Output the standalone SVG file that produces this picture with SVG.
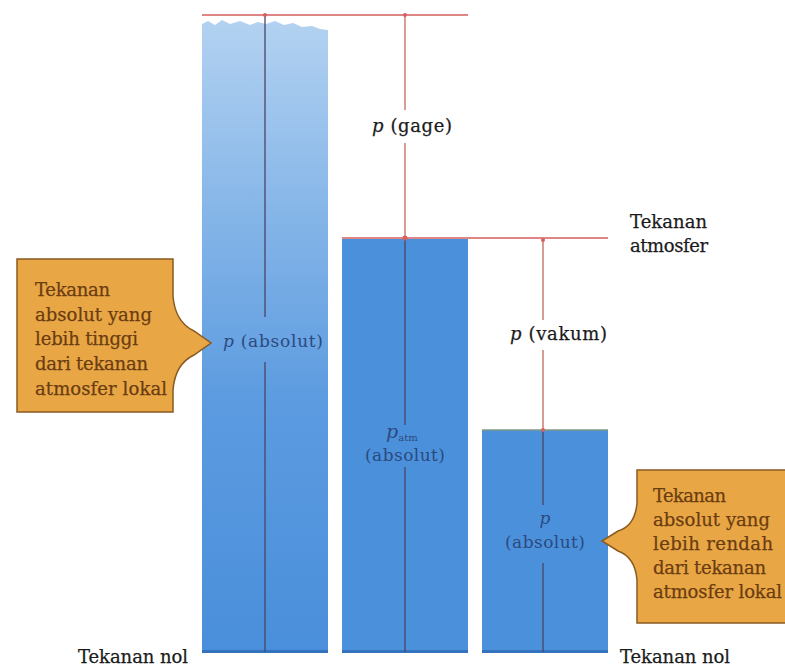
<svg xmlns="http://www.w3.org/2000/svg" width="785" height="667" viewBox="0 0 785 667">
<defs>
<linearGradient id="g1" x1="0" y1="0" x2="0" y2="1">
<stop offset="0" stop-color="#B3D2F1"/>
<stop offset="0.3" stop-color="#86B6E8"/>
<stop offset="0.6" stop-color="#5C9BE0"/>
<stop offset="1" stop-color="#4A8FDB"/>
</linearGradient>
<style>
.t{font-family:"DejaVu Serif","Liberation Serif",serif;font-size:18px;fill:#1b1b1b;stroke:#1b1b1b;stroke-width:0.25}
.c{font-family:"DejaVu Serif","Liberation Serif",serif;font-size:18px;fill:#6b3c12;stroke:#6b3c12;stroke-width:0.25}
.b{font-family:"DejaVu Serif","Liberation Serif",serif;font-size:17px;fill:#2b4a80}
.i{font-style:italic}
.bar{fill:#4B90DB}
.hl{stroke:#DE8585;stroke-width:2;fill:none}
.vw{stroke:#C97B73;stroke-width:1.5;fill:none}
.vb{stroke:#4a4468;stroke-width:1.3;fill:none}
.dot{fill:#D46060}
.call{fill:#E8A744;stroke:#8A5A20;stroke-width:1.5}
</style>
</defs>
<rect width="785" height="667" fill="#ffffff"/>

<g id="bar1">
<path d="M202,24 L208,21 L215,25 L222,20 L230,24 L240,21 L250,25 L258,22 L266,24 L275,21 L284,25 L293,23 L302,27 L312,26 L320,29 L328,30 L328,652 L202,652 Z" fill="url(#g1)"/>
<rect x="202" y="650" width="126" height="3" fill="#3573BE"/>
</g>
<g id="bar2">
<rect class="bar" x="342" y="238" width="126" height="414"/>
<rect x="342" y="650" width="126" height="3" fill="#3573BE"/>
</g>
<g id="bar3">
<rect class="bar" x="482" y="430" width="126" height="222"/>
<rect x="482" y="650" width="126" height="3" fill="#3573BE"/>
</g>

<g id="connectors">
<line class="hl" x1="202" y1="15" x2="468" y2="15"/>
<line class="hl" x1="342" y1="238" x2="608" y2="238"/>
<line x1="482" y1="430" x2="608" y2="430" stroke="#7E9A88" stroke-width="1.5"/>
<line class="vb" x1="265" y1="15" x2="265" y2="317"/>
<line class="vb" x1="265" y1="362" x2="265" y2="652"/>
<line class="vw" x1="405" y1="15" x2="405" y2="110"/>
<line class="vw" x1="405" y1="143" x2="405" y2="238"/>
<line class="vb" x1="405" y1="238" x2="405" y2="425"/>
<line class="vb" x1="405" y1="467" x2="405" y2="652"/>
<line class="vw" x1="543" y1="238" x2="543" y2="320"/>
<line class="vw" x1="543" y1="350" x2="543" y2="430"/>
<line class="vb" x1="543" y1="430" x2="543" y2="505"/>
<line class="vb" x1="543" y1="563" x2="543" y2="652"/>
<circle class="dot" cx="265" cy="15" r="2"/>
<circle class="dot" cx="405" cy="15" r="2"/>
<circle class="dot" cx="405" cy="238" r="2.5"/>
<circle class="dot" cx="543" cy="240" r="2"/>
<circle class="dot" cx="543" cy="430" r="2"/>
</g>

<g id="label-gage"><text class="t" x="372" y="132" textLength="80"><tspan class="i">p</tspan>  (gage)</text></g>
<g id="label-vakum"><text class="t" x="510" y="340" textLength="97"><tspan class="i">p</tspan>  (vakum)</text></g>
<g id="label-atmosfer">
<text class="t" x="630" y="228" textLength="77">Tekanan</text>
<text class="t" x="630" y="252" textLength="78">atmosfer</text>
</g>
<g id="label-abs1"><text class="b" x="223" y="347" textLength="100"><tspan class="i">p</tspan>  (absolut)</text></g>
<g id="label-abs2">
<text class="b" x="386" y="438"><tspan class="i" font-size="19">p</tspan><tspan font-size="10" dy="3">atm</tspan></text>
<text class="b" x="365" y="461" textLength="80">(absolut)</text>
</g>
<g id="label-abs3">
<text class="b i" x="545" y="524" text-anchor="middle">p</text>
<text class="b" x="505" y="548" textLength="80">(absolut)</text>
</g>
<g id="label-nol-left"><text class="t" x="78" y="663" textLength="110">Tekanan nol</text></g>
<g id="label-nol-right"><text class="t" x="620" y="663" textLength="110">Tekanan nol</text></g>

<g id="callout-left">
<path class="call" d="M17,259 H173 V296 Q175,322 194,331 L211,343 L194,355 Q175,364 173,390 V412 H17 Z"/>
<text class="c" x="35" y="296" textLength="75">Tekanan</text>
<text class="c" x="35" y="321" textLength="117">absolut yang</text>
<text class="c" x="35" y="345" textLength="103">lebih tinggi</text>
<text class="c" x="35" y="370" textLength="113">dari tekanan</text>
<text class="c" x="35" y="395" textLength="132">atmosfer lokal</text>
</g>

<g id="callout-right">
<path class="call" d="M800,470 H637 V503 Q635,526 618,531 L602,541 L618,551 Q635,557 637,580 V623 H800"/>
<text class="c" x="653" y="502" textLength="73">Tekanan</text>
<text class="c" x="653" y="526" textLength="117">absolut yang</text>
<text class="c" x="653" y="550" textLength="120">lebih rendah</text>
<text class="c" x="653" y="574" textLength="113">dari tekanan</text>
<text class="c" x="653" y="598" textLength="129">atmosfer lokal</text>
</g>
</svg>
